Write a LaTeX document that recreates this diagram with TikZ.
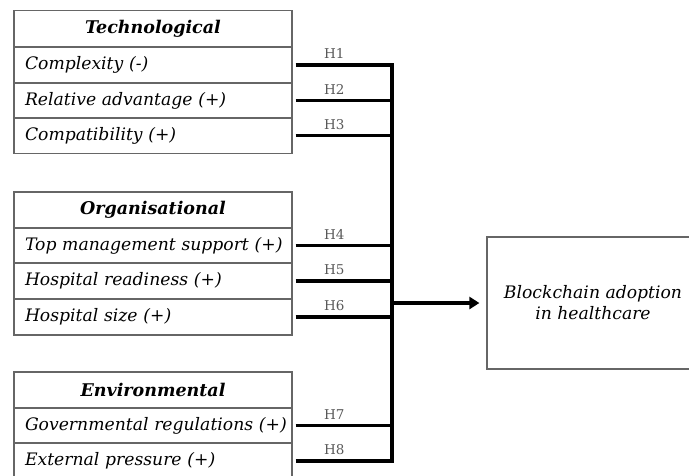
\documentclass[tikz,border=0pt]{standalone}
\usepackage{fontspec}
\setmainfont{DejaVu Serif}
\usepackage{tikz}
\usetikzlibrary{arrows,arrows.meta,positioning,calc}

\begin{document}
\begin{tikzpicture}[x=1pt, y=-1pt,
    factor/.style={rectangle, draw=black!60, line width=1.2pt, minimum height=36pt, text width=268pt, inner xsep=5pt, align=left, font=\fontsize{17.2}{20}\selectfont\itshape},
    header/.style={factor, align=center, font=\fontsize{17.5}{20}\selectfont\bfseries\itshape},
    link/.style={line width=3.4pt, shorten <=3pt},
    hyp/.style={above=1pt, pos=0.42, text=black!65, font=\fontsize{13.5}{16}\selectfont},
    arrow/.style={-{Triangle[length=10pt,width=12pt]}, line width=3.4pt}]

\useasboundingbox (0,0) rectangle (689,475);

% Technological factors
\node[header] (tech) at (153, 28.5) {Technological};
\node[factor] (cplx) at (153, 65) {\hspace*{6pt}Complexity (-)};
\node[factor] (radv) at (153, 100.5) {\hspace*{6pt}Relative advantage (+)};
\node[factor] (comp) at (153, 135.5) {\hspace*{6pt}Compatibility (+)};

% Organisational factors
\node[header] (org) at (153, 210) {Organisational};
\node[factor] (tms) at (153, 245.5) {\hspace*{6pt}Top management support (+)};
\node[factor] (hrdy) at (153, 281) {\hspace*{6pt}Hospital readiness (+)};
\node[factor] (hsize) at (153, 317) {\hspace*{6pt}Hospital size (+)};

% Environmental factors
\node[header] (env) at (153, 390) {Environmental};
\node[factor] (greg) at (153, 425.5) {\hspace*{6pt}Governmental regulations (+)};
\node[factor] (extp) at (153, 461) {\hspace*{6pt}External pressure (+)};

% Outcome
\node[rectangle, draw=black!60, line width=1.2pt, minimum width=212pt, minimum height=132pt, align=center, font=\fontsize{17.2}{21}\selectfont\itshape] (adopt) at (593, 303) {Blockchain adoption\\in healthcare};

% Collecting bar
\coordinate (bar) at (392, 0);

% Hypotheses H1--H8
\draw[link] (cplx.east) -- (cplx.east -| bar) node[hyp] {H1};
\draw[link] (radv.east) -- (radv.east -| bar) node[hyp] {H2};
\draw[link] (comp.east) -- (comp.east -| bar) node[hyp] {H3};
\draw[link] (tms.east) -- (tms.east -| bar) node[hyp] {H4};
\draw[link] (hrdy.east) -- (hrdy.east -| bar) node[hyp] {H5};
\draw[link] (hsize.east) -- (hsize.east -| bar) node[hyp] {H6};
\draw[link] (greg.east) -- (greg.east -| bar) node[hyp] {H7};
\draw[link] (extp.east) -- (extp.east -| bar) node[hyp] {H8};

\draw[line width=3.8pt] ([yshift=1.7pt]cplx.east -| bar) -- ([yshift=-1.7pt]extp.east -| bar);

% Into the outcome
\draw[arrow] (adopt.west -| bar) -- ([xshift=-7pt]adopt.west);

\end{tikzpicture}
\end{document}
